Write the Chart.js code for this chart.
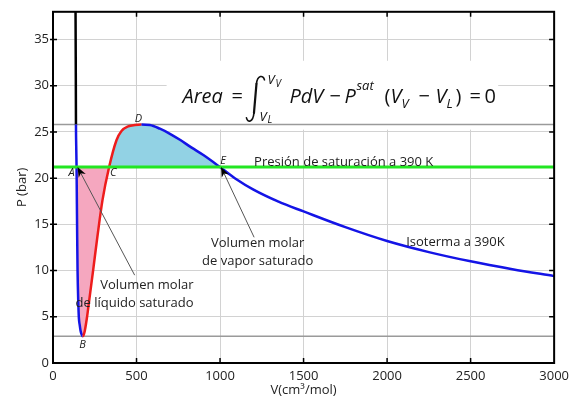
<!DOCTYPE html>
<html>
<head>
<meta charset="utf-8">
<script src="https://cdn.jsdelivr.net/npm/chart.js@4/dist/chart.umd.min.js"></script>
<style>
  html, body { margin: 0; padding: 0; background: #fff; }
  #wrap { width: 574px; height: 399px; position: relative; }
</style>
</head>
<body>
<div id="wrap"><canvas id="c" width="574" height="399"></canvas></div>
<script>
// ---- data ----
const volume   = [134.5, 136.5, 137.5, 139, 141, 143, 145, 147, 151, 155, 160, 165, 171, 177,
                  184, 191, 204, 217, 240, 266, 296, 336, 380, 410, 450, 490, 530,
                  580, 640, 700, 760, 830, 900, 1000, 1100, 1200, 1350, 1500, 1750, 2000, 2250, 2500, 2750, 3000];
const pressure = [40, 31, 25.8, 23.5, 21.2, 17.2, 13.3, 10.0, 6.8, 4.85, 4.1, 3.5, 3.1, 2.9,
                  3.05, 3.55, 5.0, 6.8, 10.0, 13.7, 17.6, 21.2, 24.1, 25.1, 25.6, 25.75, 25.8,
                  25.75, 25.35, 24.8, 24.15, 23.3, 22.5, 21.2, 19.85, 18.75, 17.45, 16.4, 14.7, 13.2, 12.0, 11.0, 10.15, 9.4];
const P_SAT = 21.2;   // presión de saturación
const P_MAX = 25.8;   // D
const P_MIN = 2.9;    // B
const keyVolumes = { A: 141, B: 177, C: 336, D: 530, E: 1000 };
const xTicks = [0, 500, 1000, 1500, 2000, 2500, 3000];
const yTicks = [0, 5, 10, 15, 20, 25, 30, 35];

const idx = k => volume.indexOf(keyVolumes[k]);
const iTop = pressure.indexOf(P_MAX);
const iA = idx('A'), iB = idx('B'), iC = idx('C'), iD = idx('D'), iE = idx('E');

const curve = volume.map((v, i) => ({ x: v, y: pressure[i] }));
const hline = p => [{ x: xTicks[0], y: p }, { x: xTicks[xTicks.length - 1], y: p }];

const BLUE = '#1414e6', RED = '#ee1c1c', GREEN = '#22e622';
const PINK = '#f5a7bf', CYAN = '#92d2e4';
const FONT = '"Open Sans", "Noto Sans", sans-serif';

function arrow(ctx, x1, y1, x2, y2) {
  const a = Math.atan2(y2 - y1, x2 - x1);
  ctx.save();
  ctx.strokeStyle = '#555'; ctx.lineWidth = 1;
  ctx.beginPath(); ctx.moveTo(x1, y1); ctx.lineTo(x2 - 6 * Math.cos(a), y2 - 6 * Math.sin(a)); ctx.stroke();
  ctx.fillStyle = '#000';
  ctx.beginPath();
  ctx.moveTo(x2, y2);
  ctx.lineTo(x2 - 10 * Math.cos(a) + 4 * Math.sin(a), y2 - 10 * Math.sin(a) - 4 * Math.cos(a));
  ctx.lineTo(x2 - 7 * Math.cos(a), y2 - 7 * Math.sin(a));
  ctx.lineTo(x2 - 10 * Math.cos(a) - 4 * Math.sin(a), y2 - 10 * Math.sin(a) + 4 * Math.cos(a));
  ctx.closePath(); ctx.fill();
  ctx.restore();
}

const decor = {
  id: 'decor',
  beforeDatasetsDraw(chart) {
    const { ctx, scales: { x, y } } = chart;
    ctx.save();
    ctx.fillStyle = '#fff';
    const l = x.getPixelForValue(680), r = x.getPixelForValue(2665);
    const t = y.getPixelForValue(32.7), b = y.getPixelForValue(25.25);
    ctx.fillRect(l, t, r - l, b - t);
    ctx.restore();
  },
  afterDatasetsDraw(chart) {
    const { ctx, chartArea: ca, scales: { x, y } } = chart;
    ctx.save();
    // frame
    ctx.strokeStyle = '#000'; ctx.lineWidth = 2;
    ctx.strokeRect(ca.left, ca.top, ca.right - ca.left, ca.bottom - ca.top);
    // inner ticks
    ctx.lineWidth = 1.5;
    ctx.beginPath();
    xTicks.slice(1, -1).forEach(v => {
      const px = x.getPixelForValue(v);
      ctx.moveTo(px, ca.bottom); ctx.lineTo(px, ca.bottom - 5);
      ctx.moveTo(px, ca.top); ctx.lineTo(px, ca.top + 5);
    });
    yTicks.slice(1).forEach(v => {
      const py = y.getPixelForValue(v);
      ctx.moveTo(ca.left - 3, py); ctx.lineTo(ca.left + 4, py);
      ctx.moveTo(ca.right, py); ctx.lineTo(ca.right - 5, py);
    });
    ctx.stroke();

    // point letters
    ctx.fillStyle = '#222';
    ctx.font = 'italic 11px ' + FONT;
    ctx.textAlign = 'center'; ctx.textBaseline = 'middle';
    const pt = (k, p, dx, dy) => ctx.fillText(k, x.getPixelForValue(keyVolumes[k]) + dx, y.getPixelForValue(p) + dy);
    pt('A', P_SAT, -5, 6);
    pt('C', P_SAT, 4, 6);
    pt('D', P_MAX, -3, -6);
    pt('E', P_SAT, 3, -6);
    pt('B', P_MIN, 0, 9);

    // text labels
    ctx.font = '13px ' + FONT;
    ctx.fillStyle = '#222';
    ctx.textAlign = 'left';
    ctx.fillText('Presión de saturación a 390 K', x.getPixelForValue(1204), y.getPixelForValue(21.75));
    ctx.textAlign = 'right';
    ctx.fillText('Volumen molar', x.getPixelForValue(841), y.getPixelForValue(8.4));
    ctx.fillText('de líquido saturado', x.getPixelForValue(841), y.getPixelForValue(6.47));
    ctx.textAlign = 'center';
    ctx.fillText('Volumen molar', x.getPixelForValue(1225), y.getPixelForValue(12.94));
    ctx.fillText('de vapor saturado', x.getPixelForValue(1225), y.getPixelForValue(11.0));
    ctx.fillText('Isoterma a 390K', x.getPixelForValue(2409), y.getPixelForValue(13.05));

    // arrows
    arrow(ctx, x.getPixelForValue(489), y.getPixelForValue(9.5), x.getPixelForValue(keyVolumes.A) + 1, y.getPixelForValue(P_SAT));
    arrow(ctx, x.getPixelForValue(1204), y.getPixelForValue(13.6), x.getPixelForValue(keyVolumes.E) + 1, y.getPixelForValue(P_SAT));

    // equation: Area = ∫ PdV − P^sat (V_V − V_L) = 0
    const x0 = x.getPixelForValue(775);
    const b0 = y.getPixelForValue(28.15);
    const fs = 20;
    const it = `italic ${fs}px ${FONT}`, rm = `${fs}px ${FONT}`;
    const sm = `italic 13px ${FONT}`, xs = `italic 10px ${FONT}`;
    ctx.textAlign = 'left'; ctx.textBaseline = 'alphabetic';
    ctx.fillStyle = '#111';
    const put = (t, f, dx, dy = 0) => { ctx.font = f; ctx.fillText(t, x0 + dx, b0 + dy); };
    put('Area', it, 0);
    put('=', rm, 49);
    // integral sign
    ctx.save();
    ctx.strokeStyle = '#111'; ctx.lineCap = 'round';
    ctx.lineWidth = 1.6;
    ctx.beginPath();
    ctx.moveTo(x0 + 82, b0 - 23);
    ctx.bezierCurveTo(x0 + 81, b0 - 28, x0 + 75, b0 - 28, x0 + 74, b0 - 19);
    ctx.stroke();
    ctx.lineWidth = 2.2;
    ctx.beginPath();
    ctx.moveTo(x0 + 74, b0 - 19);
    ctx.lineTo(x0 + 71.5, b0 + 10);
    ctx.stroke();
    ctx.lineWidth = 1.6;
    ctx.beginPath();
    ctx.moveTo(x0 + 71.5, b0 + 10);
    ctx.bezierCurveTo(x0 + 70.5, b0 + 20, x0 + 65, b0 + 20, x0 + 64, b0 + 15);
    ctx.stroke();
    ctx.restore();
    put('V', sm, 85, -19); put('V', xs, 93, -16);
    put('V', sm, 77, 18);  put('L', xs, 85, 20);
    put('PdV', it, 107);
    put('\u2212', rm, 147);
    put('P', it, 162);
    put('sat', sm, 174, -13);
    put('(', rm, 202);
    put('V', it, 208);
    put('V', sm, 219, 5);
    put('\u2212', rm, 236);
    put('V', it, 253);
    put('L', sm, 264, 5);
    put(')', rm, 273);
    put('=', rm, 287);
    put('0', rm, 302);
    ctx.restore();
  }
};

const fmt = v => String(v);

new Chart(document.getElementById('c'), {
  type: 'line',
  data: {
    datasets: [
      { data: hline(P_SAT), borderColor: GREEN, borderWidth: 3, pointRadius: 0, fill: false },
      {
        data: curve, borderWidth: 2.5, pointRadius: 0,
        cubicInterpolationMode: 'monotone', fill: false,
        segment: {
          borderColor: c => c.p0DataIndex < iTop ? '#000' : c.p0DataIndex < iB ? BLUE : c.p0DataIndex < iD ? RED : BLUE
        }
      },
      {
        data: curve, borderWidth: 0, borderColor: 'rgba(0,0,0,0)', pointRadius: 0,
        cubicInterpolationMode: 'monotone',
        fill: { target: { value: P_SAT } },
        backgroundColor: 'rgba(0,0,0,0)',
        segment: {
          backgroundColor: c => (c.p0DataIndex >= iA && c.p0DataIndex < iC) ? PINK : (c.p0DataIndex >= iC && c.p0DataIndex < iE) ? CYAN : 'rgba(0,0,0,0)'
        }
      },
      { data: hline(P_MAX), borderColor: '#9a9a9a', borderWidth: 1.5, pointRadius: 0, fill: false },
      { data: hline(P_MIN), borderColor: '#9a9a9a', borderWidth: 1.5, pointRadius: 0, fill: false }
    ]
  },
  options: {
    responsive: false,
    animation: false,
    events: [],
    layout: { padding: { top: 11, right: 18, left: 0, bottom: 0 } },
    plugins: { legend: { display: false }, tooltip: { enabled: false } },
    scales: {
      x: {
        type: 'linear', min: 0, max: 3000,
        afterFit: s => { s.height = 36; },
        afterBuildTicks: s => { s.ticks = xTicks.map(v => ({ value: v })); },
        grid: { color: '#d2d2d2', lineWidth: 1, drawTicks: false },
        border: { display: false },
        ticks: { padding: 5, color: '#222', font: { size: 13, family: FONT }, maxRotation: 0, callback: fmt },
        title: { display: true, text: 'V(cm³/mol)', color: '#222', font: { size: 13, family: FONT }, padding: { top: 0, bottom: 1 } }
      },
      y: {
        type: 'linear', min: 0, max: 38,
        afterFit: s => { s.width = 53; },
        afterBuildTicks: s => { s.ticks = yTicks.map(v => ({ value: v })); },
        grid: { color: '#d2d2d2', lineWidth: 1, drawTicks: false },
        border: { display: false },
        ticks: { padding: 4, color: '#222', font: { size: 13, family: FONT }, callback: fmt },
        title: { display: true, text: 'P (bar)', color: '#222', font: { size: 13, family: FONT }, padding: { top: 14, bottom: 0 } }
      }
    }
  },
  plugins: [decor]
});
</script>
</body>
</html>
